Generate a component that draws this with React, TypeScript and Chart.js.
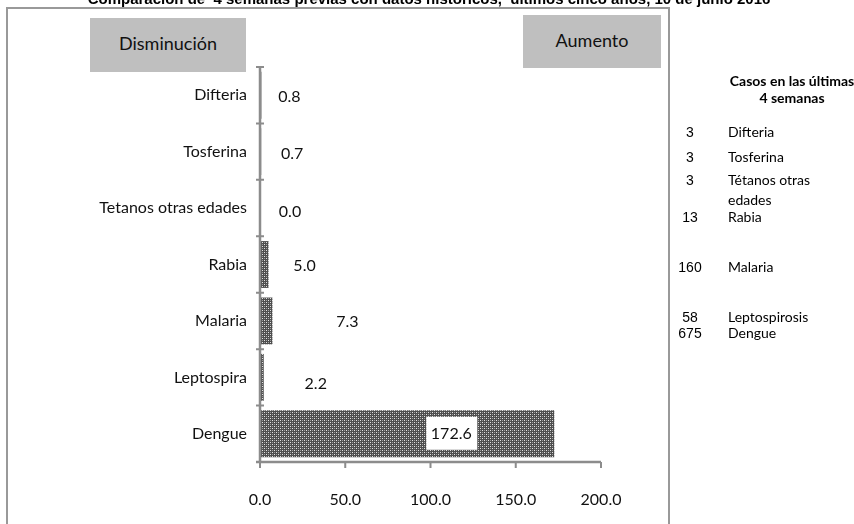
import React, { useEffect, useRef } from "react";
import { Chart, registerables } from "chart.js";

Chart.register(...registerables);

const titleText =
  "Comparación de  4 semanas previas con datos históricos,  últimos cinco años, 10 de junio 2016";
const categories = ["Difteria", "Tosferina", "Tetanos otras edades", "Rabia", "Malaria", "Leptospira", "Dengue"];
const ratioValues = [0.8, 0.7, 0.0, 5.0, 7.3, 2.2, 172.6];
const xTickValues = [0, 50, 100, 150, 200];
const legendHeader = ["Casos en las últimas", "4 semanas"];
const caseCounts = ["3", "3", "3", "13", "160", "58", "675"];
const caseNames = ["Difteria", "Tosferina", "Tétanos otras\nedades", "Rabia", "Malaria", "Leptospirosis", "Dengue"];

// styling: manual label nudges (px) as in the source figure
const labelDx = [28, 31, 30, 36, 75, 52, -103];
const labelDy = [2, 2, 4, 1, 1, 6, 0];
const caseRowY = [132, 157, 180, 217, 267, 317, 333];

const AXIS = "#8c8c8c";
const LABEL_FONT = "Lato, 'Open Sans', sans-serif";

function makePattern(): CanvasPattern | string {
  const t = document.createElement("canvas");
  t.width = 4;
  t.height = 4;
  const c = t.getContext("2d");
  if (!c) return "#777";
  c.fillStyle = "#4e4e4e";
  c.fillRect(0, 0, 4, 4);
  c.fillStyle = "#e2e2e2";
  c.fillRect(0, 0, 1, 1);
  c.fillRect(2, 2, 1, 1);
  c.fillStyle = "#9c9c9c";
  c.fillRect(2, 0, 1, 1);
  c.fillRect(0, 2, 1, 1);
  const p = c.createPattern(t, "repeat");
  return p || "#777";
}

const overlayPlugin = {
  id: "overlay",
  afterDatasetsDraw(chart: any) {
    const { ctx } = chart;
    const xs = chart.scales.x;
    const ys = chart.scales.y;
    const x0 = xs.getPixelForValue(0);
    const n = categories.length;
    const top = ys.getPixelForValue(-0.5);
    const bottom = ys.getPixelForValue(n - 0.5);
    ctx.save();
    ctx.strokeStyle = AXIS;
    ctx.lineWidth = 2.5;
    ctx.beginPath();
    ctx.moveTo(x0, top);
    ctx.lineTo(x0, bottom);
    ctx.moveTo(x0 - 4, bottom);
    ctx.lineTo(xs.getPixelForValue(xTickValues[xTickValues.length - 1]), bottom);
    ctx.stroke();
    ctx.lineWidth = 2;
    ctx.beginPath();
    for (let i = 0; i <= n; i++) {
      const y = ys.getPixelForValue(i - 0.5);
      ctx.moveTo(x0 - 4, y);
      ctx.lineTo(x0 + 4, y);
    }
    for (const v of xTickValues) {
      const x = xs.getPixelForValue(v);
      ctx.moveTo(x, bottom);
      ctx.lineTo(x, bottom + 6);
    }
    ctx.stroke();

    // data labels
    ctx.font = "16px " + LABEL_FONT;
    ctx.textAlign = "center";
    ctx.textBaseline = "middle";
    ratioValues.forEach((v, i) => {
      const x = xs.getPixelForValue(v) + labelDx[i];
      const y = ys.getPixelForValue(i) + labelDy[i];
      const txt = v.toFixed(1);
      if (i === ratioValues.length - 1) {
        ctx.fillStyle = "#ffffff";
        ctx.fillRect(x - 25, y - 17, 51, 33);
      }
      ctx.fillStyle = "#111111";
      ctx.fillText(txt, x, y);
    });
    ctx.restore();
  },
};

export default function App() {
  const ref = useRef<HTMLCanvasElement | null>(null);

  useEffect(() => {
    if (!ref.current) return;
    const pattern = makePattern();
    const chart = new Chart(ref.current, {
      type: "bar",
      data: {
        labels: categories,
        datasets: [
          {
            data: ratioValues,
            backgroundColor: pattern as any,
            borderWidth: 0,
            barPercentage: 0.83,
            categoryPercentage: 1,
          },
        ],
      },
      options: {
        indexAxis: "y",
        responsive: false,
        animation: false,
        devicePixelRatio: 1,
        layout: { padding: { left: 0, top: 67, right: 253, bottom: 0 } },
        plugins: { legend: { display: false }, tooltip: { enabled: false }, title: { display: false } },
        scales: {
          x: {
            min: xTickValues[0],
            max: xTickValues[xTickValues.length - 1],
            grid: { display: false, drawTicks: false },
            border: { display: false },
            afterFit: (s: any) => {
              s.height = 62;
            },
            afterBuildTicks: (s: any) => {
              s.ticks = xTickValues.map((v) => ({ value: v }));
            },
            ticks: {
              padding: 28,
              color: "#111",
              font: { family: LABEL_FONT, size: 16 },
              callback: (v: any) => Number(v).toFixed(1),
            },
          },
          y: {
            grid: { display: false, drawTicks: false },
            border: { display: false },
            afterFit: (s: any) => {
              s.width = 260;
            },
            ticks: {
              padding: 13,
              color: "#111",
              font: { family: LABEL_FONT, size: 16 },
            },
          },
        },
      },
      plugins: [overlayPlugin],
    });
    return () => chart.destroy();
  }, []);

  const abs = (o: React.CSSProperties): React.CSSProperties => ({ position: "absolute", ...o });

  return (
    <div
      style={{
        position: "fixed",
        left: 0,
        top: 0,
        width: 854,
        height: 524,
        overflow: "hidden",
        background: "#fff",
        fontFamily: LABEL_FONT,
      }}
    >
      {/* frame */}
      <div style={abs({ left: 6, top: 7, width: 660, height: 530, borderLeft: "2px solid #999", borderTop: "2px solid #999", borderRight: "2px solid #999" })} />
      <canvas ref={ref} width={854} height={524} style={abs({ left: 0, top: 0 })} />
      <div
        style={abs({
          left: 429,
          top: -7.6,
          transform: "translateX(-50%)",
          whiteSpace: "pre",
          font: "bold 15px 'Liberation Sans', Arial, sans-serif",
          lineHeight: "14px",
          color: "#000",
        })}
      >
        {titleText}
      </div>
      <div
        style={abs({
          left: 90,
          top: 18,
          width: 156,
          height: 54,
          background: "#bfbfbf",
          display: "flex",
          alignItems: "center",
          justifyContent: "center",
          boxSizing: "border-box",
          paddingBottom: 4,
          fontSize: 18,
          color: "#111",
        })}
      >
        Disminución
      </div>
      <div
        style={abs({
          left: 523,
          top: 15,
          width: 138,
          height: 53,
          background: "#bfbfbf",
          display: "flex",
          alignItems: "center",
          justifyContent: "center",
          boxSizing: "border-box",
          paddingBottom: 3,
          fontSize: 18,
          color: "#111",
        })}
      >
        Aumento
      </div>
      {legendHeader.map((t, i) => (
        <div
          key={"h" + i}
          style={abs({
            left: 792,
            top: 72 + i * 17,
            transform: "translateX(-50%)",
            whiteSpace: "nowrap",
            fontWeight: 700,
            fontSize: 14,
            lineHeight: "17px",
            color: "#000",
          })}
        >
          {t}
        </div>
      ))}
      {caseCounts.map((c, i) => (
        <div
          key={"c" + i}
          style={abs({
            left: 690,
            top: caseRowY[i] - 9,
            transform: "translateX(-50%)",
            font: "14px 'Liberation Sans', Arial, sans-serif",
            lineHeight: "18px",
            color: "#000",
          })}
        >
          {c}
        </div>
      ))}
      {caseNames.map((nm, i) => (
        <div
          key={"n" + i}
          style={abs({
            left: 728,
            top: caseRowY[i] - 10,
            whiteSpace: "pre",
            fontSize: 14,
            lineHeight: "20px",
            color: "#000",
          })}
        >
          {nm}
        </div>
      ))}
    </div>
  );
}
